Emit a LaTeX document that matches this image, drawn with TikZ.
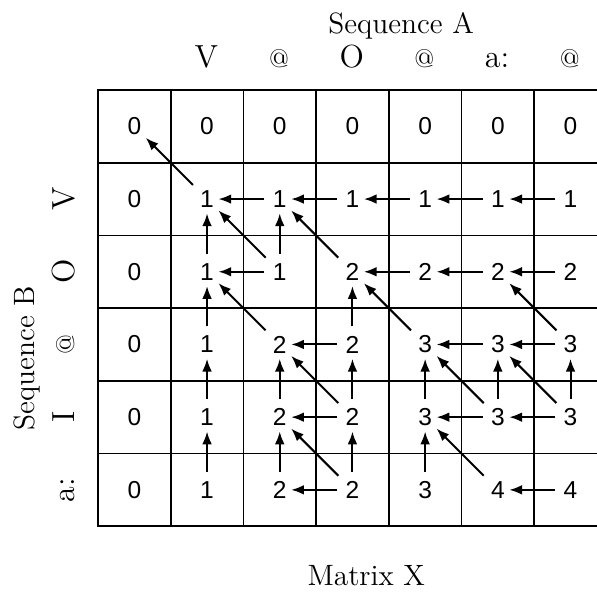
\documentclass[tikz,border=0pt]{standalone}
\usepackage{fontspec}
\setsansfont{Liberation Sans}
\usetikzlibrary{arrows.meta}
\newcommand{\atsym}{{\fontsize{10}{12}\selectfont @}}
\tikzset{
  entry/.style={font=\sffamily\fontsize{9.6}{11}\selectfont, minimum width=0.3cm, minimum height=0.38cm, inner sep=0pt},
  back/.style={-{Latex[length=5pt,width=3.8pt]}, line width=0.8pt, shorten <=1.5pt},
  seqlabel/.style={font=\fontsize{11.5}{13}\selectfont, inner sep=0pt},
  symbol/.style={font=\fontsize{12.5}{14}\selectfont, inner sep=0pt},
}

\begin{document}
\begin{tikzpicture}
    \clip (-1.348,1.238) rectangle (6.864,-6.905);
    \draw[line width=0.7pt] (0,-6) grid (7,0);
    \draw[line width=0.8pt] (0,-6) rectangle (7,0);
    % score matrix
    \foreach \row [count=\r from 0] in {{0,0,0,0,0,0,0},{0,1,1,1,1,1,1},{0,1,1,2,2,2,2},{0,1,2,2,3,3,3},{0,1,2,2,3,3,3},{0,1,2,2,3,4,4}}
      \foreach \v [count=\c from 0] in \row
        \node[entry] (m\r\c) at (\c+0.5,-\r-0.5) {\v};
    % traceback pointers
    \foreach \a/\b in {11/00,12/11,13/12,14/13,15/14,16/15,
                       21/11,22/11,22/12,22/21,23/12,24/23,25/24,26/25,
                       31/21,32/21,33/23,33/32,34/23,35/34,36/35,36/25,
                       41/31,42/32,43/42,43/32,43/33,44/34,45/44,45/34,45/35,46/45,46/35,46/36,
                       51/41,52/42,53/52,53/42,53/43,54/44,55/44,56/55}
      \draw[back] (m\a) -- (m\b);
    % sequences
    \node[seqlabel, anchor=base] (seqa) at (4.17,0.784) {Sequence A};
    \foreach \s [count=\c] in {V,\atsym,O,\atsym,a:,\atsym}
      \node[symbol, anchor=base] (a\c) at (\c+0.49,0.316) {\s};
    \node[seqlabel, anchor=base, rotate=90] (seqb) at (-0.867,-3.69) {Sequence B};
    \foreach \s [count=\r] in {V,O,\atsym,I,a:}
      \node[symbol, anchor=base, rotate=90] (b\r) at (-0.33,-\r-0.5) {\s};
    \node[seqlabel, anchor=base] (title) at (3.69,-6.81) {Matrix X};
  \end{tikzpicture}
\end{document}
